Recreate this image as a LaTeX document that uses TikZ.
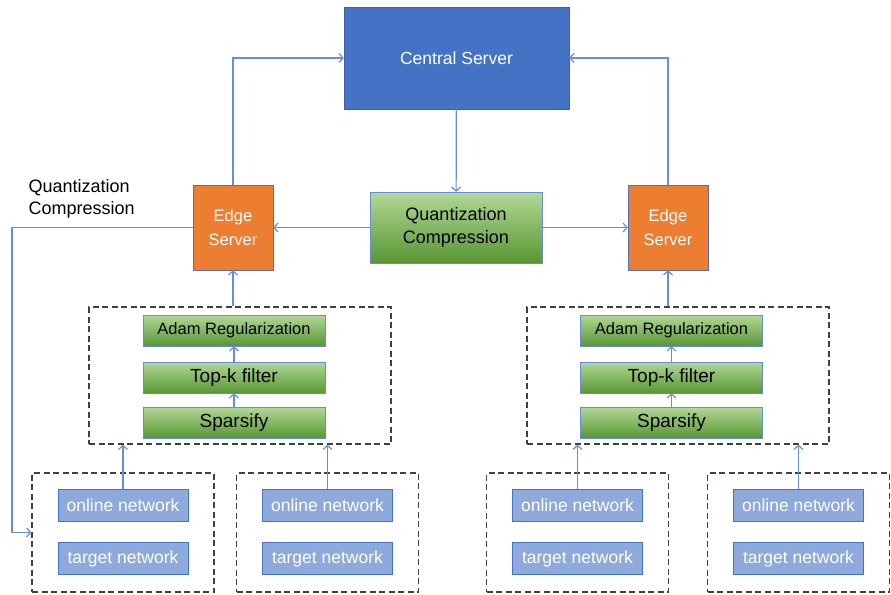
\documentclass[tikz,border=0pt]{standalone}
\usepackage{fontspec}
\setmainfont{Liberation Sans}
\usetikzlibrary{arrows.meta,positioning,calc}
\definecolor{linkblue}{RGB}{104,140,216}
\definecolor{serverblue}{RGB}{68,114,196}
\definecolor{edgeorange}{RGB}{237,125,49}
\definecolor{netblue}{RGB}{142,169,219}
\definecolor{leafgreen}{RGB}{112,173,71}
\definecolor{leaflight}{RGB}{178,216,150}
\definecolor{leafdark}{RGB}{88,150,52}
\tikzset{
  server/.style={draw=serverblue!85!black, fill=serverblue, text=white, minimum width=225pt, minimum height=102pt, font=\fontsize{17.5}{21}\selectfont},
  edgebox/.style={draw=linkblue!80!black, fill=edgeorange, text=white, align=center, minimum width=80pt, minimum height=85pt, font=\fontsize{16.5}{24}\selectfont},
  greenbox/.style={draw=linkblue, top color=leaflight, middle color=leafgreen, bottom color=leafdark, align=center, font=\fontsize{18}{23}\selectfont},
  stepbox/.style={greenbox, minimum width=182pt, minimum height=31pt, font=\fontsize{19}{20}\selectfont},
  netbox/.style={draw=serverblue, fill=netblue, text=white, minimum width=130pt, minimum height=32pt, font=\fontsize{17.5}{20}\selectfont},
  group/.style={draw=black!75, dashed, dash pattern=on 6pt off 3.5pt, line width=1.3pt},
  arrow/.style={-{Straight Barb[length=4pt,width=9pt]}, draw=linkblue, line width=1.2pt},
  note/.style={align=left, font=\fontsize{18}{22}\selectfont}
}
\begin{document}
\begin{tikzpicture}[x=1pt,y=-1pt]
\useasboundingbox (0,0) rectangle (891,594);
\node[server] (central) at (456.5,58) {Central Server};
\node[greenbox, minimum width=172pt, minimum height=71pt] (quant) at (456,227.5) {Quantization\\Compression};
\node[edgebox] (edgeL) at (233,227.5) {Edge\\Server};
\node[edgebox] (edgeR) at (668,227.5) {Edge\\Server};
\node[note, anchor=west] (qnote) at (25,199) {Quantization\\Compression};
% edge side: sparsify, filter, regularize
\foreach \s/\x/\c in {L/234/240, R/671.5/678}{
  \node[group, minimum width=302pt, minimum height=137pt] (pool\s) at (\c,375.5) {};
  \node[stepbox, font=\fontsize{16.5}{18}\selectfont] (adam\s) at (\x,330.5) {Adam Regularization};
  \node[stepbox] (topk\s) at (\x,377.5) {Top-k filter};
  \node[stepbox] (sparse\s) at (\x,422.5) {Sparsify};
  \draw[arrow] (sparse\s) -- (topk\s);
  \draw[arrow] (topk\s) -- (adam\s);
  \draw[arrow] (edge\s.south |- pool\s.north) -- (edge\s.south);
}
% clients
\foreach \n/\x/\p in {A/123/L, B/327.5/L, C/577.5/R, D/798.5/R}{
  \node[group, minimum width=182pt, minimum height=119pt] (client\n) at (\x,532.5) {};
  \node[netbox] (online\n) at (\x,505) {online network};
  \node[netbox] (target\n) at (\x,558.5) {target network};
  \draw[arrow] (online\n.north) -- (online\n.north |- pool\p.south);
}
\draw[arrow] (edgeL.north) |- (central.west);
\draw[arrow] (edgeR.north) |- (central.east);
\draw[arrow] (central) -- (quant);
\draw[arrow] (quant) -- (edgeL);
\draw[arrow] (quant) -- (edgeR);
\coordinate (back) at (12,227.5);
\draw[arrow] (edgeL.west) -- (back) |- (clientA.west);
\end{tikzpicture}
\end{document}
